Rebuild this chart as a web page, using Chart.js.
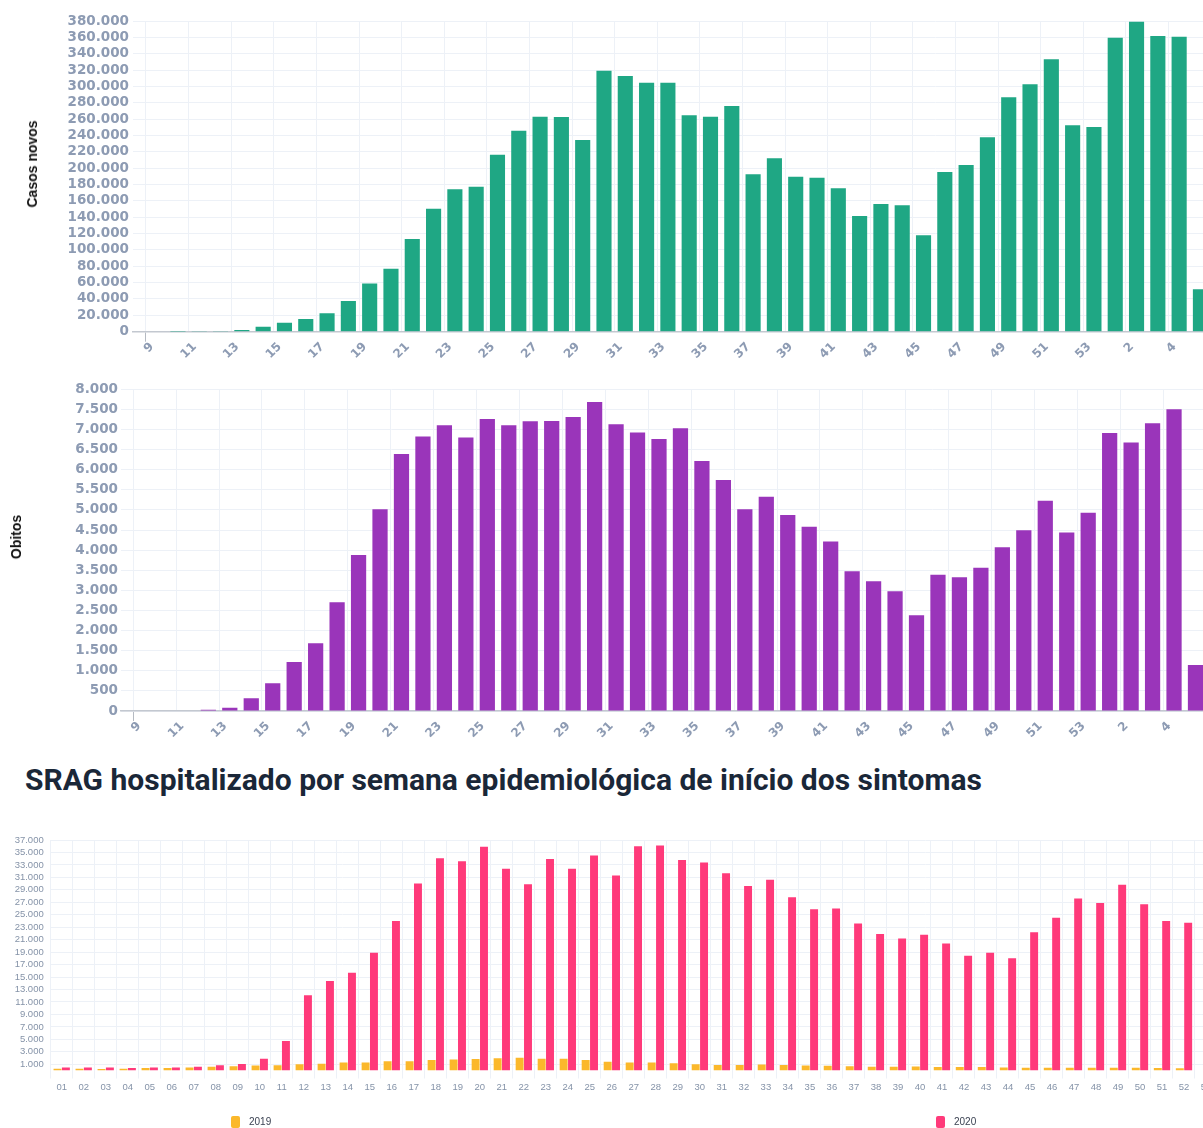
<!DOCTYPE html>
<html lang="pt-BR">
<head>
<meta charset="utf-8">
<title>Casos, óbitos e SRAG por semana epidemiológica</title>
<script src="https://cdn.jsdelivr.net/npm/chart.js@4.4.1/dist/chart.umd.min.js"></script>
<style>
  html, body { margin: 0; padding: 0; background: #fff; overflow: hidden; }
  body { position: relative; width: 1203px; height: 1128px; }
  .wrap { position: absolute; left: 0; }
  #wrapCasos { top: 0; width: 1203px; height: 372px; }
  #wrapObitos { top: 375px; width: 1203px; height: 371px; }
  #wrapSrag { top: 825px; width: 1217px; height: 303px; }
  .ytitle { position: absolute; font: bold 14px "Liberation Sans", Arial, sans-serif; color: #111;
            white-space: nowrap; transform: translate(-50%, -50%) rotate(-90deg); }
  h2 { position: absolute; top: 762px; left: 25px; margin: 0; font: 700 30px Roboto, sans-serif;
       color: #1a2738; letter-spacing: 0; white-space: nowrap; }
  .leg { position: absolute; top: 1115px; font: 10px "Liberation Sans", Arial, sans-serif; color: #3b4252; line-height: 14px; }
  .leg i { display: inline-block; width: 9px; height: 12px; border-radius: 2px; vertical-align: middle; margin-right: 9px; }
</style>
</head>
<body>
<div class="wrap" id="wrapCasos"><canvas id="casos"></canvas></div>
<div class="ytitle" style="left:31.5px; top:164px">Casos novos</div>
<div class="wrap" id="wrapObitos"><canvas id="obitos"></canvas></div>
<div class="ytitle" style="left:16px; top:537px">Obitos</div>
<h2>SRAG hospitalizado por semana epidemiológica de início dos sintomas</h2>
<div class="wrap" id="wrapSrag"><canvas id="srag"></canvas></div>
<div class="leg" id="leg2019" style="left:231px"></div>
<div class="leg" id="leg2020" style="left:936px"></div>
<script>
// semanas epidemiologicas 9..53 de 2020 e 1..5 de 2021
var weekLabels = ['9', '10', '11', '12', '13', '14', '15', '16', '17', '18', '19', '20',
    '21', '22', '23', '24', '25', '26', '27', '28', '29', '30', '31', '32', '33', '34',
    '35', '36', '37', '38', '39', '40', '41', '42', '43', '44', '45', '46', '47', '48',
    '49', '50', '51', '52', '53', '1', '2', '3', '4', '5'];

var casosNovos = [0, 30, 200, 1000, 2000, 6000, 11000, 15500, 22500, 37500, 59000, 77000,
    113400, 150400, 174200, 177300, 216500, 245800, 263000, 262600, 234500, 319200, 312700, 304500, 304500, 264700,
    263000, 276000, 192500, 212000, 189600, 188400, 175400, 141500, 156200, 154600, 117900, 195300, 203900, 237800,
    286700, 302600, 333200, 252400, 250400, 359600, 379200, 361700, 360800, 51800];

var obitos = [0, 0, 0, 30, 82, 315, 689, 1219, 1683, 2704, 3881, 5017,
    6390, 6824, 7107, 6799, 7264, 7107, 7206, 7214, 7313, 7687, 7131, 6924, 6766, 7032,
    6219, 5746, 5017, 5331, 4876, 4585, 4212, 3475, 3226, 2978, 2381, 3391, 3325, 3565,
    4072, 4495, 5231, 4436, 4933, 6915, 6674, 7156, 7504, 1144];

var casosTicks = [0, 20000, 40000, 60000, 80000, 100000, 120000, 140000, 160000, 180000, 200000,
    220000, 240000, 260000, 280000, 300000, 320000, 340000, 360000, 380000];
var obitosTicks = [0, 500, 1000, 1500, 2000, 2500, 3000, 3500, 4000, 4500, 5000, 5500, 6000,
    6500, 7000, 7500, 8000];

var sragWeeks = ['01', '02', '03', '04', '05', '06', '07', '08', '09', '10', '11', '12', '13',
    '14', '15', '16', '17', '18', '19', '20', '21', '22', '23', '24', '25', '26', '27', '28',
    '29', '30', '31', '32', '33', '34', '35', '36', '37', '38', '39', '40', '41', '42', '43',
    '44', '45', '46', '47', '48', '49', '50', '51', '52', '53'];

var srag2019 = [300, 300, 250, 300, 400, 400, 500, 600, 700, 800,
    850, 1000, 1100, 1300, 1300, 1500, 1500, 1700, 1750, 1850,
    1950, 2050, 1900, 1900, 1700, 1400, 1300, 1300, 1150, 1000,
    900, 900, 950, 900, 800, 750, 700, 600, 600, 650,
    550, 550, 550, 500, 450, 450, 450, 450, 450, 450,
    400, 350, null];

var srag2020 = [500, 500, 500, 400, 500, 500, 600, 830, 1040, 1900,
    4730, 12070, 14370, 15700, 18900, 24000, 30000, 34060, 33600, 35900,
    32400, 29900, 33950, 32400, 34500, 31300, 36000, 36100, 33800, 33400,
    31650, 29600, 30600, 27800, 25900, 26000, 23600, 21900, 21200, 21800,
    20400, 18400, 18900, 18000, 22200, 24500, 27600, 26900, 29800, 26700,
    24000, 23700, 22800];

var sragTicks = [1000, 3000, 5000, 7000, 9000, 11000, 13000, 15000, 17000, 19000, 21000,
    23000, 25000, 27000, 29000, 31000, 33000, 35000, 37000];

var verde = '#1fa784';
var roxo = '#9a35ba';
var amarelo = '#fbb82b';
var rosa = '#ff3a7a';
var tickColor = '#8d9bb3';
var gridColor = '#edf1f7';

Chart.defaults.animation = false;
Chart.defaults.font.family = '"DejaVu Sans", sans-serif';

function fmt(v) {
    return String(v).replace(/\B(?=(\d{3})+(?!\d))/g, '.');
}

function weeklyChart(id, values, o) {
    return new Chart(document.getElementById(id), {
        type: 'bar',
        data: {
            datasets: [{
                data: values.map(function (v, i) { return { x: i + 0.5, y: v }; }),
                backgroundColor: o.color,
                barPercentage: 0.71,
                categoryPercentage: 1
            }]
        },
        options: {
            responsive: true,
            maintainAspectRatio: false,
            layout: { padding: { top: o.padTop, left: 0, right: 0, bottom: 0 } },
            plugins: { legend: { display: false }, tooltip: { enabled: false } },
            scales: {
                x: {
                    type: 'linear',
                    offset: false,
                    min: o.xMin,
                    max: o.xMax,
                    afterBuildTicks: function (s) {
                        s.ticks = weekLabels.map(function (w, i) { return { value: i }; })
                            .filter(function (t) { return t.value % 2 === 0; });
                    },
                    afterFit: function (s) {
                        // rotulos girados nao devem encolher a area do grafico
                        s.height = o.xHeight;
                        s.paddingLeft = 0;
                        s.paddingRight = 0;
                    },
                    grid: {
                        color: gridColor, offset: false, drawTicks: true, tickLength: 10,
                        // so a primeira marca aparece abaixo do eixo
                        tickColor: function (c) { return c.index === 0 ? '#b5bac2' : 'rgba(0,0,0,0)'; }
                    },
                    border: { color: '#c3c8d0', width: 1.5 },
                    ticks: {
                        autoSkip: false, minRotation: 45, maxRotation: 45, padding: -2, labelOffset: 6,
                        color: tickColor, font: { size: 12, weight: 'bold' },
                        callback: function (v) { return weekLabels[v]; }
                    }
                },
                y: {
                    min: 0,
                    max: o.yTicks[o.yTicks.length - 1],
                    afterBuildTicks: function (s) {
                        s.ticks = o.yTicks.map(function (v) { return { value: v }; });
                    },
                    afterFit: function (s) { s.width = o.yWidth; },
                    grid: { color: gridColor, drawTicks: false },
                    border: { display: false },
                    ticks: {
                        autoSkip: false, padding: o.yPad, color: tickColor, font: { size: 13.5, weight: 'bold' },
                        callback: function (v) { return fmt(v); }
                    }
                }
            }
        }
    });
}

weeklyChart('casos', casosNovos, {
    color: verde, yTicks: casosTicks,
    yWidth: 133, yPad: 4, xMin: -0.61, xMax: 49.62, padTop: 21, xHeight: 40.3
});

weeklyChart('obitos', obitos, {
    color: roxo, yTicks: obitosTicks,
    yWidth: 121, yPad: 3, xMin: -0.57, xMax: 49.85, padTop: 14.3, xHeight: 35
});

new Chart(document.getElementById('srag'), {
    type: 'bar',
    data: {
        labels: sragWeeks,
        datasets: [
            { label: '2019', data: srag2019, backgroundColor: amarelo, categoryPercentage: 0.76, barPercentage: 0.95 },
            { label: '2020', data: srag2020, backgroundColor: rosa, categoryPercentage: 0.76, barPercentage: 0.95 }
        ]
    },
    options: {
        responsive: true,
        maintainAspectRatio: false,
        layout: { padding: { top: 15, left: 0, right: 0, bottom: 0 } },
        plugins: { legend: { display: false }, tooltip: { enabled: false } },
        scales: {
            x: {
                afterFit: function (s) { s.height = 57.5; },
                grid: { color: gridColor, tickLength: 8 },
                border: { display: false },
                ticks: {
                    autoSkip: false, maxRotation: 0, padding: 3, color: '#8593a8',
                    font: { family: '"Liberation Sans", Arial, sans-serif', size: 9.5 }
                }
            },
            y: {
                min: 0,
                max: 37000,
                afterBuildTicks: function (s) {
                    s.ticks = sragTicks.map(function (v) { return { value: v }; });
                },
                afterFit: function (s) { s.width = 50.7; },
                grid: { color: gridColor, drawTicks: false },
                border: { display: false },
                ticks: {
                    autoSkip: false, padding: 7, color: '#8593a8',
                    font: { family: '"Liberation Sans", Arial, sans-serif', size: 9.5 },
                    callback: function (v) { return fmt(v); }
                }
            }
        }
    }
});

// legenda simples em html
document.getElementById('leg2019').innerHTML = '<i style="background:' + amarelo + '"></i>2019';
document.getElementById('leg2020').innerHTML = '<i style="background:' + rosa + '"></i>2020';
</script>
</body>
</html>
